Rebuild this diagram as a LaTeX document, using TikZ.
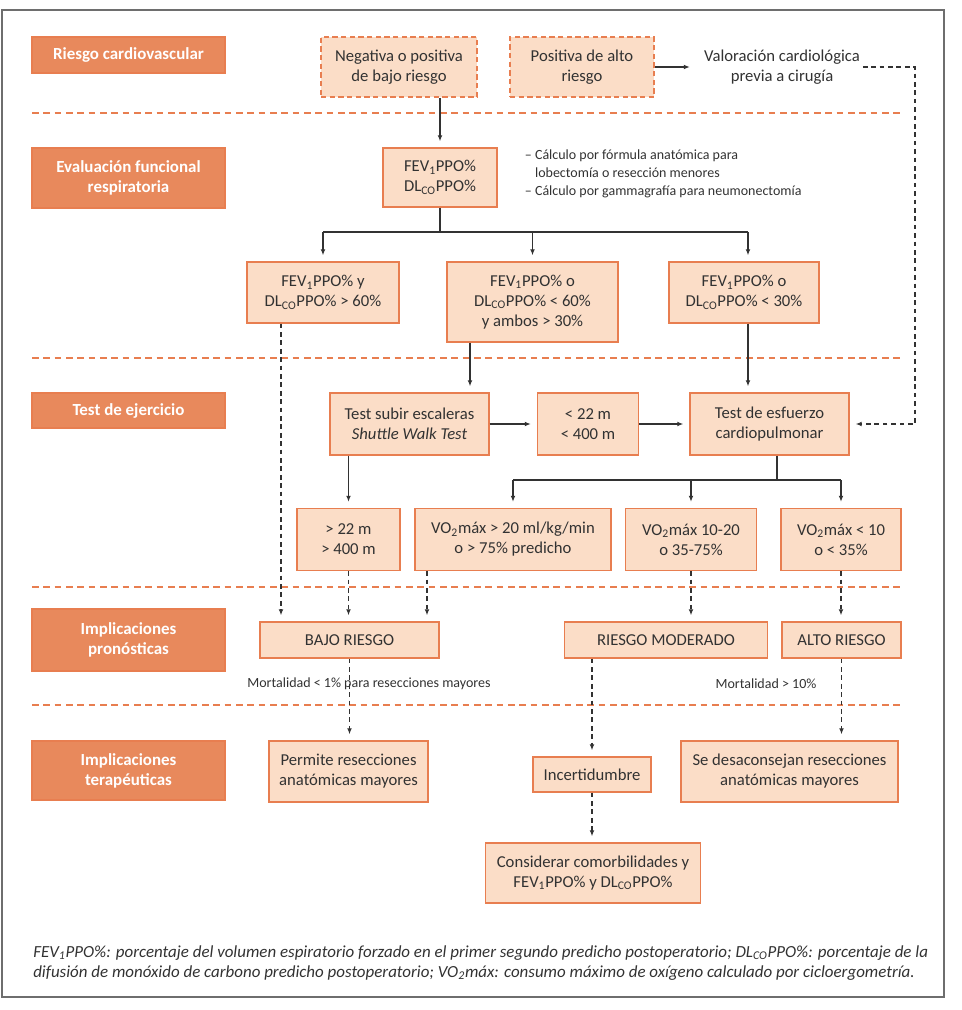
\documentclass[tikz,border=0pt]{standalone}
\usepackage{fontspec}
\setmainfont{Carlito}
\usetikzlibrary{arrows.meta}
\definecolor{hdr}{RGB}{232,137,92}
\definecolor{brd}{RGB}{232,126,80}
\definecolor{lt}{RGB}{251,221,199}
\definecolor{ink}{RGB}{50,50,50}
\definecolor{frm}{RGB}{110,110,110}
\newcommand{\FEVp}{FEV\textsubscript{1}PPO\%}
\newcommand{\DLCOp}{DL\textsubscript{CO}PPO\%}
\newcommand{\VOm}{VO\textsubscript{2}máx}
\begin{document}
\begin{tikzpicture}[x=0.75pt,y=-0.75pt,
  sz/.style 2 args={minimum width=#1*0.75pt, minimum height=#2*0.75pt},
  hdrbox/.style={fill=hdr, draw=brd, line width=0.8pt, text=white, inner sep=0pt,
     font=\fontsize{12.7}{15}\selectfont\bfseries, align=center, minimum width=193*0.75pt},
  lbox/.style={fill=lt, draw=brd, line width=1pt, text=ink, inner sep=0pt,
     font=\fontsize{12.5}{15}\selectfont, align=center},
  dbox/.style={lbox, dash pattern=on 4pt off 2.5pt},
  plain/.style={text=ink, inner sep=2pt, align=center},
  ln/.style={draw=ink, line width=0.9pt},
  arr/.style={ln, -{Latex[length=4.5pt,width=3.6pt]}, shorten >=4.5pt},
  darr/.style={arr, dash pattern=on 3.5pt off 2.8pt},
  sepline/.style={draw=brd, line width=1pt, dash pattern=on 5pt off 3.5pt},
]
\useasboundingbox (0,0) rectangle (962,1010);
\draw[frm, line width=1.5pt] (2,10) rectangle (944,997);

% separators
\draw[sepline] (32,113) -- (903,113);
\draw[sepline] (32,358) -- (903,358);
\draw[sepline] (32,587) -- (903,587);
\draw[sepline] (32,705) -- (903,705);

% headers
\node[hdrbox, minimum height=36*0.75pt] (h1) at (128.5,55) {Riesgo cardiovascular};
\node[hdrbox, minimum height=60*0.75pt] (h2) at (128.5,178) {Evaluación funcional\\respiratoria};
\node[hdrbox, minimum height=35*0.75pt] (h3) at (128.5,410.5) {Test de ejercicio};
\node[hdrbox, minimum height=62*0.75pt] (h4) at (128.5,640) {Implicaciones\\pronósticas};
\node[hdrbox, minimum height=59*0.75pt] (h5) at (128.5,770.5) {Implicaciones\\terapéuticas};

% row 1
\node[dbox, sz={156}{60}] (neg) at (399,67) {Negativa o positiva\\de bajo riesgo};
\node[dbox, sz={144}{60}] (pos) at (582,67) {Positiva de alto\\riesgo};
\node[plain, font=\fontsize{12.5}{15}\selectfont] (val) at (782,67) {Valoración cardiológica\\previa a cirugía};

% row 2
\node[lbox, sz={114}{59}] (fev) at (440,177.5) {\FEVp\\\DLCOp};
\node[plain, anchor=north west, align=left, font=\fontsize{10.5}{13.5}\selectfont] (bul) at (522,147)
  {-- Cálculo por fórmula anatómica para\\\hphantom{-- }lobectomía o resección menores\\-- Cálculo por gammagrafía para neumonectomía};

\node[lbox, sz={152}{61}] (A) at (323,292.5) {\FEVp{} y\\\DLCOp{} > 60\%};
\node[lbox, sz={171}{80}] (B) at (532.5,302) {\FEVp{} o\\\DLCOp{} < 60\%\\y ambos > 30\%};
\node[lbox, sz={150}{61}] (C) at (744,292.5) {\FEVp{} o\\\DLCOp{} < 30\%};

% row 3
\node[lbox, sz={159}{62}] (tsub) at (409.5,424) {Test subir escaleras\\\textit{Shuttle Walk Test}};
\node[lbox, sz={101}{62}] (t22) at (588,424) {< 22 m\\< 400 m};
\node[lbox, sz={159}{62}] (tesf) at (769.5,424) {Test de esfuerzo\\cardiopulmonar};

% row 4
\node[lbox, sz={103}{62}] (g22) at (348.5,539.5) {> 22 m\\> 400 m};
\node[lbox, sz={196}{62}] (v20) at (513,539.5) {\VOm{} > 20 ml/kg/min\\o > 75\% predicho};
\node[lbox, sz={131}{62}] (v1020) at (691,539.5) {\VOm{} 10-20\\o 35-75\%};
\node[lbox, sz={120}{62}] (v10) at (841,539.5) {\VOm{} < 10\\o < 35\%};

% row 5
\node[lbox, sz={179}{36}] (bajo) at (349.5,640) {BAJO RIESGO};
\node[lbox, sz={203}{36}] (mod) at (666,640) {RIESGO MODERADO};
\node[lbox, sz={119}{36}] (alto) at (841.5,640) {ALTO RIESGO};
\node[plain, font=\fontsize{10.5}{13}\selectfont] (m1) at (369,684) {Mortalidad < 1\% para resecciones mayores};
\node[plain, font=\fontsize{10.5}{13}\selectfont] (m2) at (766,684) {Mortalidad > 10\%};

% row 6
\node[lbox, sz={159}{61}] (perm) at (348.5,771.5) {Permite resecciones\\anatómicas mayores};
\node[lbox, sz={118}{35}] (inc) at (592,774.5) {Incertidumbre};
\node[lbox, sz={217}{61}] (desa) at (789.5,771.5) {Se desaconsejan resecciones\\anatómicas mayores};
\node[lbox, sz={215}{60}] (cons) at (593,873) {Considerar comorbilidades y\\\FEVp{} y \DLCOp};

% footnote
\node[anchor=west, inner sep=0pt, text=ink, font=\fontsize{12.7}{15}\selectfont\itshape] (fn1) at (33,953)
  {\FEVp: porcentaje del volumen espiratorio forzado en el primer segundo predicho postoperatorio; \DLCOp: porcentaje de la};
\node[anchor=west, inner sep=0pt, text=ink, font=\fontsize{12.7}{15}\selectfont\itshape] (fn2) at (33,973)
  {difusión de monóxido de carbono predicho postoperatorio; \VOm: consumo máximo de oxígeno calculado por cicloergometría.};

% helper coordinates
\coordinate (br1) at (440,232);
\coordinate (br2) at (777,480);
\coordinate (xB) at (470,0);
\coordinate (xC) at (748,0);
\coordinate (xA) at (281,0);
\coordinate (xV) at (427,0);
\coordinate (vr) at (915,67);

% connectors
\draw[arr] (fev.north |- neg.south) -- (fev.north);
\draw[arr] (pos.east) -- ([xshift=-4pt]val.west);
\draw[ln] (fev.south) -- (br1);
\draw[ln] (A.north |- br1) -- (xC |- br1);
\draw[arr] (A.north |- br1) -- (A.north);
\draw[arr] (B.north |- br1) -- (B.north);
\draw[arr] (xC |- br1) -- (xC |- C.north);
\draw[arr] (xB |- B.south) -- (xB |- tsub.north);
\draw[arr] (xC |- C.south) -- (xC |- tesf.north);
\draw[arr] (tsub.east) -- (t22.west);
\draw[arr] (t22.east) -- (tesf.west);
\draw[darr] (val.east) -- (vr) |- (tesf.east);
\draw[arr] (g22.north |- tsub.south) -- (g22.north);
\draw[ln] (br2 |- tesf.south) -- (br2);
\draw[ln] (v20.north |- br2) -- (v10.north |- br2);
\draw[arr] (v20.north |- br2) -- (v20.north);
\draw[arr] (v1020.north |- br2) -- (v1020.north);
\draw[arr] (v10.north |- br2) -- (v10.north);
\draw[darr] (xA |- A.south) -- (xA |- bajo.north);
\draw[darr] (g22.south) -- (g22.south |- bajo.north);
\draw[darr] (xV |- v20.south) -- (xV |- bajo.north);
\draw[darr] (v1020.south) -- (v1020.south |- mod.north);
\draw[darr] (v10.south) -- (v10.south |- alto.north);
\draw[darr] (bajo.south) -- (bajo.south |- perm.north);
\draw[darr] (inc.north |- mod.south) -- (inc.north);
\draw[darr] (alto.south) -- (alto.south |- desa.north);
\draw[darr] (inc.south) -- (inc.south |- cons.north);
\end{tikzpicture}
\end{document}
